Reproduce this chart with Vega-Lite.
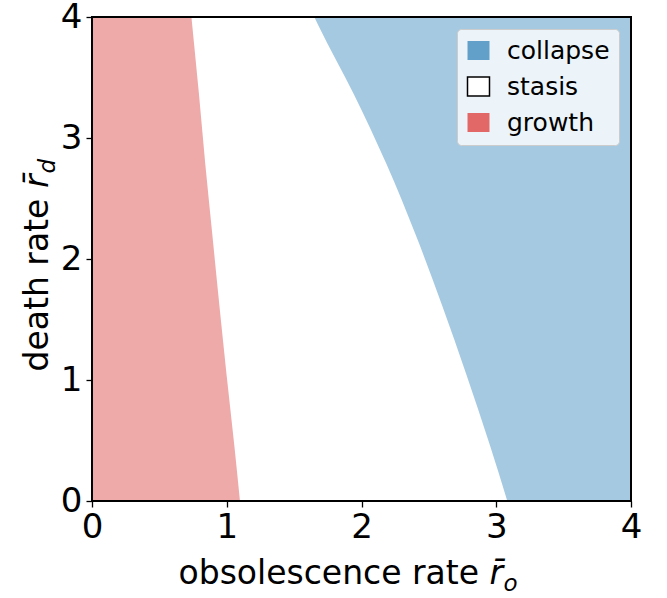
{
  "$schema": "https://vega.github.io/schema/vega-lite/v6.json",
  "width": 539,
  "height": 484,
  "autosize": {"type": "none"},
  "padding": {"left": 92, "top": 17, "right": 36, "bottom": 97},
  "background": "white",
  "config": {
    "font": "DejaVu Sans",
    "view": {"stroke": null},
    "axis": {
      "grid": false,
      "labelFlush": false,
      "labelColor": "black",
      "labelFont": "DejaVu Sans",
      "labelFontSize": 34,
      "titleColor": "black",
      "titleFont": "DejaVu Sans",
      "titleFontWeight": "normal",
      "titleFontSize": 33,
      "titleAlign": "left",
      "titleBaseline": "alphabetic",
      "domain": false,
      "ticks": true,
      "tickColor": "black",
      "tickWidth": 1.3,
      "tickSize": 6
    }
  },
  "data": {
    "values": [
      {"region": "growth", "rd": 0, "lo": 0, "hi": 1.098},
      {"region": "growth", "rd": 0.46, "lo": 0, "hi": 1.056},
      {"region": "growth", "rd": 1.04, "lo": 0, "hi": 0.999},
      {"region": "growth", "rd": 1.62, "lo": 0, "hi": 0.945},
      {"region": "growth", "rd": 2.2, "lo": 0, "hi": 0.893},
      {"region": "growth", "rd": 2.78, "lo": 0, "hi": 0.841},
      {"region": "growth", "rd": 3.36, "lo": 0, "hi": 0.794},
      {"region": "growth", "rd": 3.93, "lo": 0, "hi": 0.744},
      {"region": "growth", "rd": 4, "lo": 0, "hi": 0.738},
      {"region": "stasis", "rd": 0, "lo": 1.098, "hi": 3.082},
      {"region": "stasis", "rd": 0.46, "lo": 1.056, "hi": 2.953},
      {"region": "stasis", "rd": 1.04, "lo": 0.999, "hi": 2.78},
      {"region": "stasis", "rd": 1.62, "lo": 0.945, "hi": 2.597},
      {"region": "stasis", "rd": 2.2, "lo": 0.893, "hi": 2.402},
      {"region": "stasis", "rd": 2.78, "lo": 0.841, "hi": 2.187},
      {"region": "stasis", "rd": 3.36, "lo": 0.794, "hi": 1.944},
      {"region": "stasis", "rd": 3.93, "lo": 0.744, "hi": 1.68},
      {"region": "stasis", "rd": 4, "lo": 0.738, "hi": 1.65},
      {"region": "collapse", "rd": 0, "lo": 3.082, "hi": 4},
      {"region": "collapse", "rd": 0.46, "lo": 2.953, "hi": 4},
      {"region": "collapse", "rd": 1.04, "lo": 2.78, "hi": 4},
      {"region": "collapse", "rd": 1.62, "lo": 2.597, "hi": 4},
      {"region": "collapse", "rd": 2.2, "lo": 2.402, "hi": 4},
      {"region": "collapse", "rd": 2.78, "lo": 2.187, "hi": 4},
      {"region": "collapse", "rd": 3.36, "lo": 1.944, "hi": 4},
      {"region": "collapse", "rd": 3.93, "lo": 1.68, "hi": 4},
      {"region": "collapse", "rd": 4, "lo": 1.65, "hi": 4}
    ]
  },
  "layer": [
    {
      "transform": [{"filter": "datum.region === 'stasis'"}],
      "mark": {"type": "area", "orient": "horizontal", "interpolate": "monotone", "fillOpacity": 0.5714},
      "encoding": {
        "y": {
          "field": "rd", "type": "quantitative",
          "scale": {"domain": [0, 4], "nice": false, "zero": false},
          "axis": {
            "orient": "left", "values": [0, 1, 2, 3, 4], "labelPadding": 4,
            "title": "death rate",
            "titleAngle": 270, "titleX": -45, "titleY": 354
          }
        },
        "x": {
          "field": "lo", "type": "quantitative",
          "scale": {"domain": [0, 4], "nice": false, "zero": false},
          "axis": {
            "orient": "bottom", "values": [0, 1, 2, 3, 4], "labelPadding": 3,
            "title": "obsolescence rate",
            "titleAngle": 0, "titleX": 86, "titleY": 82
          }
        },
        "x2": {"field": "hi"},
        "fill": {
          "field": "region", "type": "nominal",
          "scale": {"domain": ["collapse", "stasis", "growth"], "range": ["#62a0ca", "#ffffff", "#e26868"]},
          "legend": {
            "title": null,
            "orient": "top-right",
            "offset": 12,
            "padding": 9,
            "fillColor": "rgba(255,255,255,0.8)",
            "strokeColor": "#cccccc",
            "cornerRadius": 4,
            "labelFont": "DejaVu Sans",
            "labelFontSize": 25,
            "labelColor": "black",
            "labelOffset": 16,
            "rowPadding": 9,
            "symbolType": "M-1,-0.864H1V0.864H-1Z",
            "symbolSize": 484,
            "symbolOpacity": 1,
            "symbolStrokeWidth": 1.5,
            "encode": {
              "symbols": {
                "update": {
                  "fillOpacity": {"value": 1},
                  "stroke": [
                    {"test": "datum.value === 'stasis'", "value": "black"},
                    {"value": "transparent"}
                  ]
                }
              }
            }
          }
        }
      }
    },
    {
      "transform": [{"filter": "datum.region === 'growth'"}],
      "mark": {"type": "area", "orient": "horizontal", "interpolate": "monotone", "fillOpacity": 0.5714},
      "encoding": {
        "y": {
          "field": "rd", "type": "quantitative",
          "axis": {
            "orient": "right", "labels": false, "ticks": false,
            "title": "r\u0304", "titleFontStyle": "italic",
            "titleAngle": 270, "titleX": -584, "titleY": 170.5
          }
        },
        "x": {
          "field": "lo", "type": "quantitative",
          "axis": {
            "orient": "top", "labels": false, "ticks": false,
            "title": "r\u0304", "titleFontStyle": "italic",
            "titleAngle": 0, "titleX": 397, "titleY": 566
          }
        },
        "x2": {"field": "hi"},
        "fill": {"field": "region", "type": "nominal"}
      }
    },
    {
      "transform": [{"filter": "datum.region === 'collapse'"}],
      "mark": {"type": "area", "orient": "horizontal", "interpolate": "monotone", "fillOpacity": 0.5714},
      "encoding": {
        "y": {
          "field": "rd", "type": "quantitative",
          "axis": {
            "orient": "left", "labels": false, "ticks": false,
            "title": "d", "titleFontStyle": "italic", "titleFontSize": 23,
            "titleAngle": 270, "titleX": -38, "titleY": 156
          }
        },
        "x": {
          "field": "lo", "type": "quantitative",
          "axis": {
            "orient": "bottom", "labels": false, "ticks": false,
            "title": "o", "titleFontStyle": "italic", "titleFontSize": 23,
            "titleAngle": 0, "titleX": 411, "titleY": 89
          }
        },
        "x2": {"field": "hi"},
        "fill": {"field": "region", "type": "nominal"}
      }
    },
    {
      "mark": {"type": "rect", "filled": false, "stroke": "black", "strokeWidth": 1.3},
      "encoding": {
        "x": {"datum": 0, "type": "quantitative", "axis": null},
        "x2": {"datum": 4},
        "y": {"datum": 0, "type": "quantitative", "axis": null},
        "y2": {"datum": 4}
      }
    }
  ],
  "resolve": {"axis": {"x": "independent", "y": "independent"}}
}
